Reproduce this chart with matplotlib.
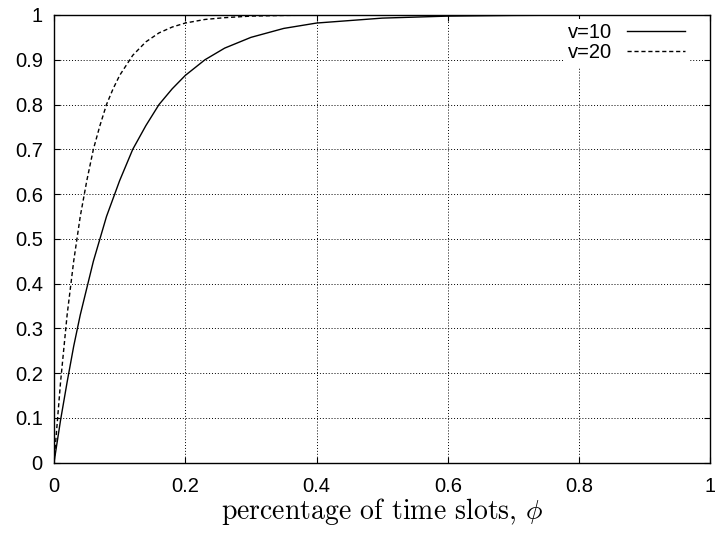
# Coding: utf-8
"""Fraction of covered slots vs percentage of time slots (gnuplot style)."""

import matplotlib
matplotlib.use('Agg')
import matplotlib.pyplot as plt

# values
phi = [0.0, 0.01, 0.02, 0.03, 0.04, 0.05, 0.06, 0.07, 0.08, 0.09, 0.10,
       0.12, 0.14, 0.16, 0.18, 0.20, 0.23, 0.26, 0.30, 0.35, 0.40,
       0.50, 0.60, 0.70, 0.80, 1.0]
v10 = [0.0, 0.095, 0.18, 0.26, 0.33, 0.39, 0.45, 0.50, 0.55, 0.59, 0.63,
       0.70, 0.753, 0.80, 0.835, 0.865, 0.90, 0.926, 0.95, 0.97, 0.982,
       0.993, 0.9975, 0.999, 0.9997, 1.0]
v20 = [0.0, 0.18, 0.33, 0.45, 0.55, 0.63, 0.70, 0.753, 0.80, 0.835, 0.865,
       0.91, 0.94, 0.96, 0.973, 0.982, 0.99, 0.994, 0.9975, 0.999, 0.9997,
       1.0, 1.0, 1.0, 1.0, 1.0]
x_ticks = [0, 0.2, 0.4, 0.6, 0.8, 1]
x_tick_labels = ['0', '0.2', '0.4', '0.6', '0.8', '1']
y_ticks = [0, 0.1, 0.2, 0.3, 0.4, 0.5, 0.6, 0.7, 0.8, 0.9, 1]
y_tick_labels = ['0', '0.1', '0.2', '0.3', '0.4', '0.5', '0.6', '0.7', '0.8', '0.9', '1']

plt.rcParams['mathtext.fontset'] = 'cm'
plt.rcParams['font.family'] = ['Liberation Sans', 'DejaVu Sans']

fig = plt.figure(figsize=(7.15, 5.35), dpi=100)
ax = fig.add_axes([0.0755, 0.1351, 0.9182, 0.8369])

ax.plot(phi, v10, color='black', linewidth=1.0, label='v=10')
ax.plot(phi, v20, color='black', linewidth=1.0, linestyle=(0, (3, 2)), label='v=20')

ax.set_xlim(0, 1)
ax.set_ylim(0, 1)
ax.set_xticks(x_ticks)
ax.set_xticklabels(x_tick_labels)
ax.set_yticks(y_ticks)
ax.set_yticklabels(y_tick_labels)
ax.tick_params(direction='in', length=4, width=0.8, top=True, right=True,
               labelsize=14.5)
ax.tick_params(axis='x', pad=10)
ax.tick_params(axis='y', pad=8)
ax.grid(True, color='black', linestyle=(0, (1, 2)), linewidth=0.7)
for s in ax.spines.values():
    s.set_linewidth(1.0)

ax.set_xlabel(r'percentage of time slots, $\phi$', fontname='cmr10', fontsize=20, labelpad=0)

# key: text first, white box behind it (hides the grid like gnuplot does)
leg = ax.legend(loc='upper right', frameon=True, markerfirst=False, fontsize=14.5,
                handlelength=2.9, handletextpad=0.75, labelspacing=0.05,
                borderpad=0.2, borderaxespad=0, bbox_to_anchor=(0.968, 0.99))
leg.get_frame().set_facecolor('white')
leg.get_frame().set_edgecolor('none')
leg.get_frame().set_alpha(1)
leg.get_frame().set_boxstyle('square', pad=0)

fig.savefig('out.png', dpi=100)
